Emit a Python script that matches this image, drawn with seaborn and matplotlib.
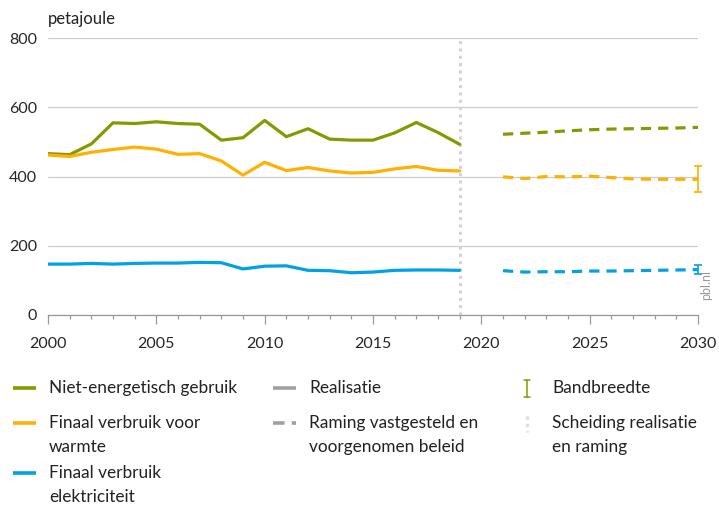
import numpy as np
import pandas as pd
import matplotlib
matplotlib.use('Agg')
import matplotlib.pyplot as plt
import seaborn as sns
from matplotlib.lines import Line2D
from matplotlib.ticker import MultipleLocator

# gerealiseerde jaren en ramingsjaren
jaren_real = list(range(2000, 2020))
jaren_raming = list(range(2021, 2031))

niet_energetisch = [466, 463, 494, 555, 553, 558, 553, 551, 505, 512,
                    562, 515, 538, 508, 505, 505, 526, 556, 527, 493]
warmte = [462, 458, 470, 478, 485, 479, 464, 466, 445, 404,
          441, 417, 426, 416, 410, 412, 422, 429, 418, 416]
elektriciteit = [147, 147, 149, 147, 149, 150, 150, 152, 151, 133,
                 141, 142, 129, 128, 122, 124, 129, 130, 130, 129]

niet_energetisch_raming = [522, 525, 528, 532, 535, 537, 538, 539, 540, 542]
warmte_raming = [399, 394, 400, 399, 401, 397, 393, 392, 392, 392]
elektriciteit_raming = [128, 124, 125, 125, 127, 127, 128, 129, 130, 131]

# bandbreedte in 2030
band_jaar = 2030
warmte_band = (356, 431)
elektriciteit_band = (119, 145)

scheiding_jaar = 2019

series = ['Niet-energetisch gebruik', 'Finaal verbruik voor\nwarmte',
          'Finaal verbruik\nelektriciteit']
kleuren = ['#859a00', '#ffb000', '#00a2e3']

sns.set_theme(style='white')
plt.rcParams['font.family'] = ['Lato', 'DejaVu Sans']
plt.rcParams['text.color'] = '#222222'

W, H = 719, 505

df_real = pd.DataFrame({
    'jaar': jaren_real * 3,
    'waarde': niet_energetisch + warmte + elektriciteit,
    'serie': [series[0]] * 20 + [series[1]] * 20 + [series[2]] * 20,
})
df_raming = pd.DataFrame({
    'jaar': jaren_raming * 3,
    'waarde': niet_energetisch_raming + warmte_raming + elektriciteit_raming,
    'serie': [series[0]] * 10 + [series[1]] * 10 + [series[2]] * 10,
})

fig = plt.figure(figsize=(W / 100, H / 100), dpi=100)
ax = fig.add_axes([48 / W, 1 - 315 / H, 650 / W, 277 / H])

palette = dict(zip(series, kleuren))
sns.lineplot(data=df_real, x='jaar', y='waarde', hue='serie', palette=palette,
             linewidth=2.3, legend=False, ax=ax)
sns.lineplot(data=df_raming, x='jaar', y='waarde', hue='serie', palette=palette,
             linewidth=2.3, legend=False, ax=ax)
for line in ax.lines[3:]:
    line.set_linestyle((0, (3.2, 2.2)))

# bandbreedte
for band, kleur, mid in [(warmte_band, kleuren[1], warmte_raming[-1]),
                         (elektriciteit_band, kleuren[2], elektriciteit_raming[-1])]:
    ax.errorbar([band_jaar], [mid], yerr=[[mid - band[0]], [band[1] - mid]],
                fmt='none', ecolor=kleur, elinewidth=1.2, capsize=3,
                capthick=1.2, clip_on=False, zorder=5)

ax.axvline(scheiding_jaar, color='#d4d4d4', linestyle=(0, (1, 1.4)),
           linewidth=2.2, zorder=1)

ax.set_xlim(2000, 2030)
ax.set_ylim(0, 800)
ax.set_yticks([0, 200, 400, 600, 800])
ax.xaxis.set_major_locator(MultipleLocator(5))
ax.xaxis.set_minor_locator(MultipleLocator(1))
ax.grid(axis='y', color='#cccccc', linewidth=0.9)
ax.set_axisbelow(True)
for s in ['top', 'right', 'left']:
    ax.spines[s].set_visible(False)
ax.spines['bottom'].set_color('#999999')
ax.spines['bottom'].set_linewidth(0.9)
ax.tick_params(axis='x', which='major', length=6.5, width=0.9, color='#999999',
               labelsize=11.5, pad=9, bottom=True)
ax.tick_params(axis='x', which='minor', length=3, width=0.9, color='#999999',
               bottom=True)
ax.tick_params(axis='y', length=0, labelsize=11.5, pad=8)
ax.set_xlabel('')
ax.set_ylabel('')

ax.text(0, 1.068, 'petajoule', transform=ax.transAxes, fontsize=12,
        ha='left', va='center')
fig.text(706 / W, 1 - 285 / H, 'pbl.nl', rotation=90, color='#999999',
         fontsize=9, ha='center', va='center')


# legenda (handmatig geplaatst, in pixels)
def fx(px):
    return px / W


def fy(py):
    return 1 - py / H


def text_only(x, y, label):
    # y = midden van de eerste regel
    fig.text(fx(x), fy(y - 8), label, fontsize=12.4, ha='left',
             va='top', linespacing=1.58)


def legend_item(x_handle, y, label, **line_kw):
    fig.add_artist(Line2D([fx(x_handle), fx(x_handle + 23)], [fy(y), fy(y)],
                          linewidth=2.6, solid_capstyle='butt', **line_kw))
    text_only(x_handle + 36, y, label)


legend_item(13, 388, series[0], color=kleuren[0])
legend_item(13, 423, series[1], color=kleuren[1])
legend_item(13, 473, series[2], color=kleuren[2])
legend_item(273, 388, 'Realisatie', color='#a0a0a0')
legend_item(273, 423, 'Raming vastgesteld en\nvoorgenomen beleid',
            color='#a0a0a0', linestyle=(0, (3.2, 2.0)))

# bandbreedte-symbool
bx = 527
for seg in [([bx, bx], [380, 397]), ([bx - 3, bx + 3], [380, 380]),
            ([bx - 3, bx + 3], [397, 397])]:
    fig.add_artist(Line2D([fx(v) for v in seg[0]], [fy(v) for v in seg[1]],
                          color=kleuren[0], linewidth=1.1))
text_only(552, 388, 'Bandbreedte')
fig.add_artist(Line2D([fx(bx), fx(bx)], [fy(416), fy(432)], color='#dedede',
                      linewidth=2.4, linestyle=(0, (1, 1.2))))
text_only(552, 423, 'Scheiding realisatie\nen raming')

fig.savefig('out.png', dpi=100)
